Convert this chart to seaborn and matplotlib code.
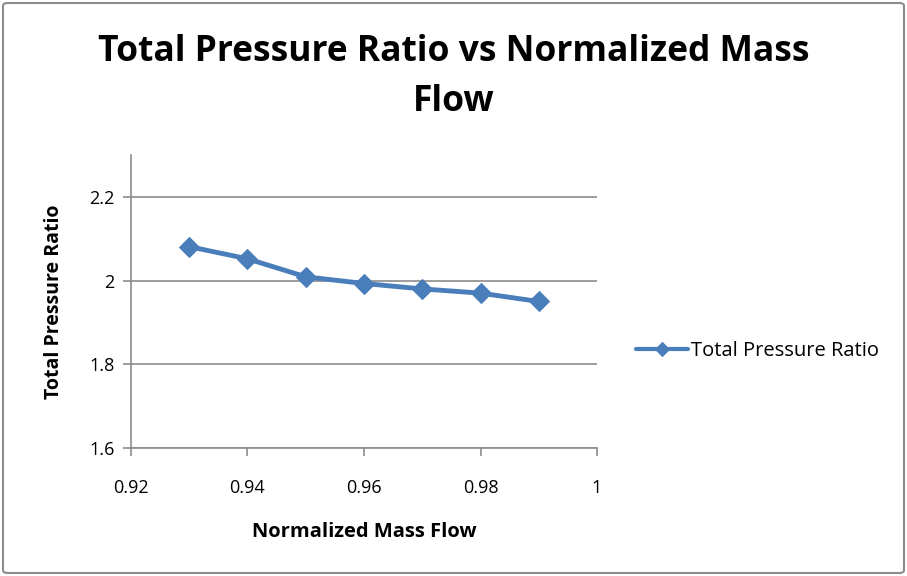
import matplotlib
matplotlib.use("Agg")
import matplotlib.pyplot as plt
import seaborn as sns
import pandas as pd
from matplotlib.patches import FancyBboxPatch

mass_flow = [0.93, 0.94, 0.95, 0.96, 0.97, 0.98, 0.99]
pressure_ratio = [2.081, 2.052, 2.009, 1.993, 1.980, 1.970, 1.950]
x_ticks = [0.92, 0.94, 0.96, 0.98, 1.0]
x_tick_labels = ["0.92", "0.94", "0.96", "0.98", "1"]
y_ticks = [1.6, 1.8, 2.0, 2.2]
y_tick_labels = ["1.6", "1.8", "2", "2.2"]
series_name = "Total Pressure Ratio"

sns.set_theme(style="white")
plt.rcParams['font.family'] = ['Open Sans', 'DejaVu Sans']
plt.rcParams['text.color'] = 'black'
plt.rcParams['axes.labelcolor'] = 'black'
plt.rcParams['xtick.color'] = 'black'
plt.rcParams['ytick.color'] = 'black'

df = pd.DataFrame({"x": mass_flow, "y": pressure_ratio, "s": series_name})

fig = plt.figure(figsize=(9.07, 5.76), dpi=100)
ax = fig.add_axes([131/907, 1-448/576, (597-131)/907, (448-155)/576])

blue = "#4A7EBB"
sns.lineplot(data=df, x="x", y="y", hue="s", palette=[blue], marker="D",
             markersize=10, linewidth=3.5, markeredgecolor=blue, ax=ax)

ax.set_xlim(0.92, 1.0)
ax.set_ylim(1.6, 2.3)
ax.set_xticks(x_ticks)
ax.set_xticklabels(x_tick_labels, fontsize=13)
ax.set_yticks(y_ticks)
ax.set_yticklabels(y_tick_labels, fontsize=13)
ax.yaxis.grid(True, color="#8c8c8c", linewidth=1.2)
ax.xaxis.grid(False)
for s in ["top", "right"]:
    ax.spines[s].set_visible(False)
for s in ["left", "bottom"]:
    ax.spines[s].set_color("#8c8c8c")
    ax.spines[s].set_linewidth(1.2)
ax.tick_params(axis="x", direction="out", length=6, color="#8c8c8c", width=1.2, pad=16, bottom=True)
ax.tick_params(axis="y", direction="out", length=6, color="#8c8c8c", width=1.2, pad=6, left=True)
ax.set_axisbelow(True)

ax.set_xlabel("Normalized Mass Flow", fontsize=14.5, fontweight="bold", labelpad=18)
ax.set_ylabel("Total Pressure Ratio", fontsize=14, fontweight="bold", labelpad=18)

handles, labels = ax.get_legend_handles_labels()
for h in handles:
    h.set_markersize(7)
    h.set_linewidth(3)
ax.legend(handles, labels, loc="center left", bbox_to_anchor=(1.045, 0.33),
          frameon=False, fontsize=14.5, handlelength=2.6, handletextpad=0.15)

fig.text(0.5, 1-52/576, "Total Pressure Ratio vs Normalized Mass", ha="center", va="center",
         fontsize=25.5, fontweight="bold", color="black")
fig.text(0.5, 1-102/576, "Flow", ha="center", va="center", fontsize=25.5, fontweight="bold", color="black")

border = FancyBboxPatch((3/907, 3/576), 1-6/907, 1-6/576, boxstyle="round,pad=0,rounding_size=0.005",
                        transform=fig.transFigure, fill=False, edgecolor="#8c8c8c", linewidth=1.5)
fig.patches.append(border)

fig.savefig("out.png", dpi=100)
